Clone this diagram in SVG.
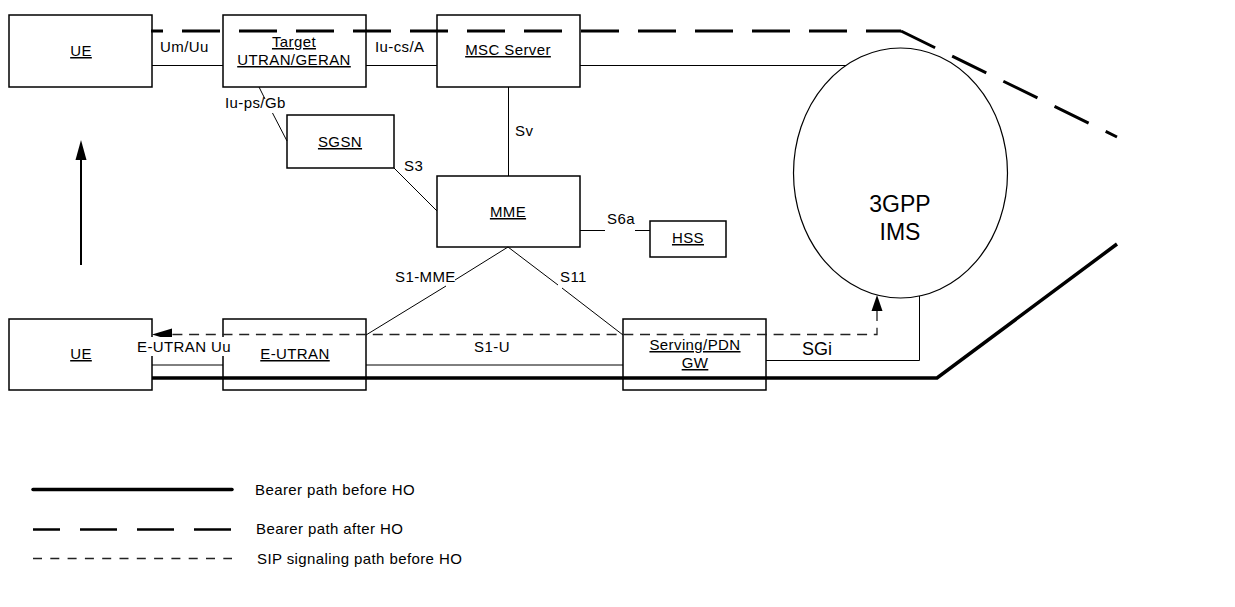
<svg xmlns="http://www.w3.org/2000/svg" width="1235" height="607" viewBox="0 0 1235 607">
<style>
text{font-family:"Liberation Sans",Arial,sans-serif;font-size:15px;letter-spacing:0.4px;fill:#000}
.u{text-decoration:underline}
.m{text-anchor:middle}
.box{fill:#fff;stroke:#000;stroke-width:1.5}
.ln{fill:none;stroke:#000;stroke-width:1}
.thick{fill:none;stroke:#000;stroke-width:3.5}
.after{fill:none;stroke:#000;stroke-width:3;stroke-dasharray:38 19}
.sip{fill:none;stroke:#222;stroke-width:1.3;stroke-dasharray:10 6.7}
</style>
<rect width="1235" height="607" fill="#fff"/>

<g id="ue-top"><rect class="box" x="9" y="15" width="143" height="72"/><text class="u m" x="81" y="56">UE</text></g>
<g id="target-utran"><rect class="box" x="223" y="15" width="143" height="72"/><text class="u m" x="294" y="47">Target</text><text class="u m" x="294" y="65">UTRAN/GERAN</text></g>
<g id="msc-server"><rect class="box" x="437" y="15" width="143" height="72"/><text class="u m" x="508" y="55">MSC Server</text></g>
<g id="sgsn"><rect class="box" x="287" y="115" width="107" height="53"/><text class="u m" x="340" y="147">SGSN</text></g>
<g id="mme"><rect class="box" x="437" y="176" width="143" height="71"/><text class="u m" x="508" y="217">MME</text></g>
<g id="hss"><rect class="box" x="650" y="221" width="76" height="36"/><text class="u m" x="688" y="243">HSS</text></g>
<g id="ims"><ellipse cx="900.5" cy="173" rx="107" ry="125" fill="#fff" stroke="#000" stroke-width="1.2"/><text class="m" x="900" y="212" style="font-size:23px;letter-spacing:0">3GPP</text><text class="m" x="900" y="240" style="font-size:23px;letter-spacing:0">IMS</text></g>
<g id="ue-bottom"><rect class="box" x="9" y="319" width="143" height="71"/><text class="u m" x="81" y="359">UE</text></g>
<g id="e-utran"><rect class="box" x="223" y="319" width="143" height="71"/><text class="u m" x="295" y="359">E-UTRAN</text></g>
<g id="serving-gw"><rect class="box" x="623" y="319" width="143" height="71"/><text class="u m" x="695" y="350">Serving/PDN</text><text class="u m" x="695" y="368">GW</text></g>

<g id="connectors">
  <line class="ln" x1="152" y1="65.5" x2="223" y2="65.5"/>
  <line class="ln" x1="366" y1="65.5" x2="437" y2="65.5"/>
  <line class="ln" x1="580" y1="65.5" x2="846" y2="65.5"/>
  <line class="ln" x1="259" y1="87" x2="265" y2="99"/>
  <line class="ln" x1="272.5" y1="113" x2="287" y2="141"/>
  <line class="ln" x1="394" y1="168" x2="437" y2="211"/>
  <line class="ln" x1="508.5" y1="87" x2="508.5" y2="176"/>
  <line class="ln" x1="580" y1="230.5" x2="605" y2="230.5"/>
  <line class="ln" x1="635" y1="230.5" x2="650" y2="230.5"/>
  <line class="ln" x1="508" y1="247" x2="455" y2="280"/>
  <line class="ln" x1="446" y1="286" x2="366" y2="335"/>
  <line class="ln" x1="508" y1="247" x2="558" y2="285"/>
  <line class="ln" x1="562" y1="288" x2="623" y2="335"/>
  <line class="ln" x1="152" y1="365" x2="223" y2="365"/>
  <line class="ln" x1="366" y1="365" x2="623" y2="365"/>
  <polyline class="ln" points="766,360.5 919.5,360.5 919.5,296"/>
  <line class="after" style="stroke-dashoffset:26" x1="151" y1="31" x2="901" y2="31"/>
  <line class="after" x1="901" y1="31" x2="1117" y2="137"/>
  <polyline class="thick" points="152,378 937,378 1117,244"/>
  <polyline class="sip" points="877,311 877,334.5 172,334.5"/>
  <polygon points="152,334.5 172,328.5 172,340.5" fill="#000"/>
  <polygon points="877,295 871.5,311 882.5,311" fill="#000"/>
  <line x1="81" y1="265" x2="81" y2="158" stroke="#000" stroke-width="2"/>
  <polygon points="81,140 75.5,160 86.5,160" fill="#000"/>
  <rect x="136" y="337" width="96" height="19" fill="#fff"/>
</g>

<g id="labels">
  <text x="160" y="52">Um/Uu</text>
  <text x="375" y="52">Iu-cs/A</text>
  <text x="225" y="108">Iu-ps/Gb</text>
  <text x="404" y="171">S3</text>
  <text x="515" y="136">Sv</text>
  <text x="607" y="224">S6a</text>
  <text x="395" y="282">S1-MME</text>
  <text x="560" y="282">S11</text>
  <text x="137" y="352">E-UTRAN Uu</text>
  <text class="m" x="492" y="352">S1-U</text>
  <text x="802" y="355" style="font-size:18px;letter-spacing:0">SGi</text>
</g>

<g id="legend">
  <line x1="33" y1="489.5" x2="232" y2="489.5" stroke="#000" stroke-width="3.5" stroke-linecap="round"/>
  <text x="255" y="495">Bearer path before HO</text>
  <line x1="33" y1="529.5" x2="232" y2="529.5" stroke="#000" stroke-width="2.5" stroke-dasharray="37 20" stroke-dashoffset="10"/>
  <text x="256" y="534">Bearer path after HO</text>
  <line x1="33" y1="558.5" x2="232" y2="558.5" stroke="#222" stroke-width="1.3" stroke-dasharray="9 8.3"/>
  <text x="257" y="564">SIP signaling path before HO</text>
</g>
</svg>
